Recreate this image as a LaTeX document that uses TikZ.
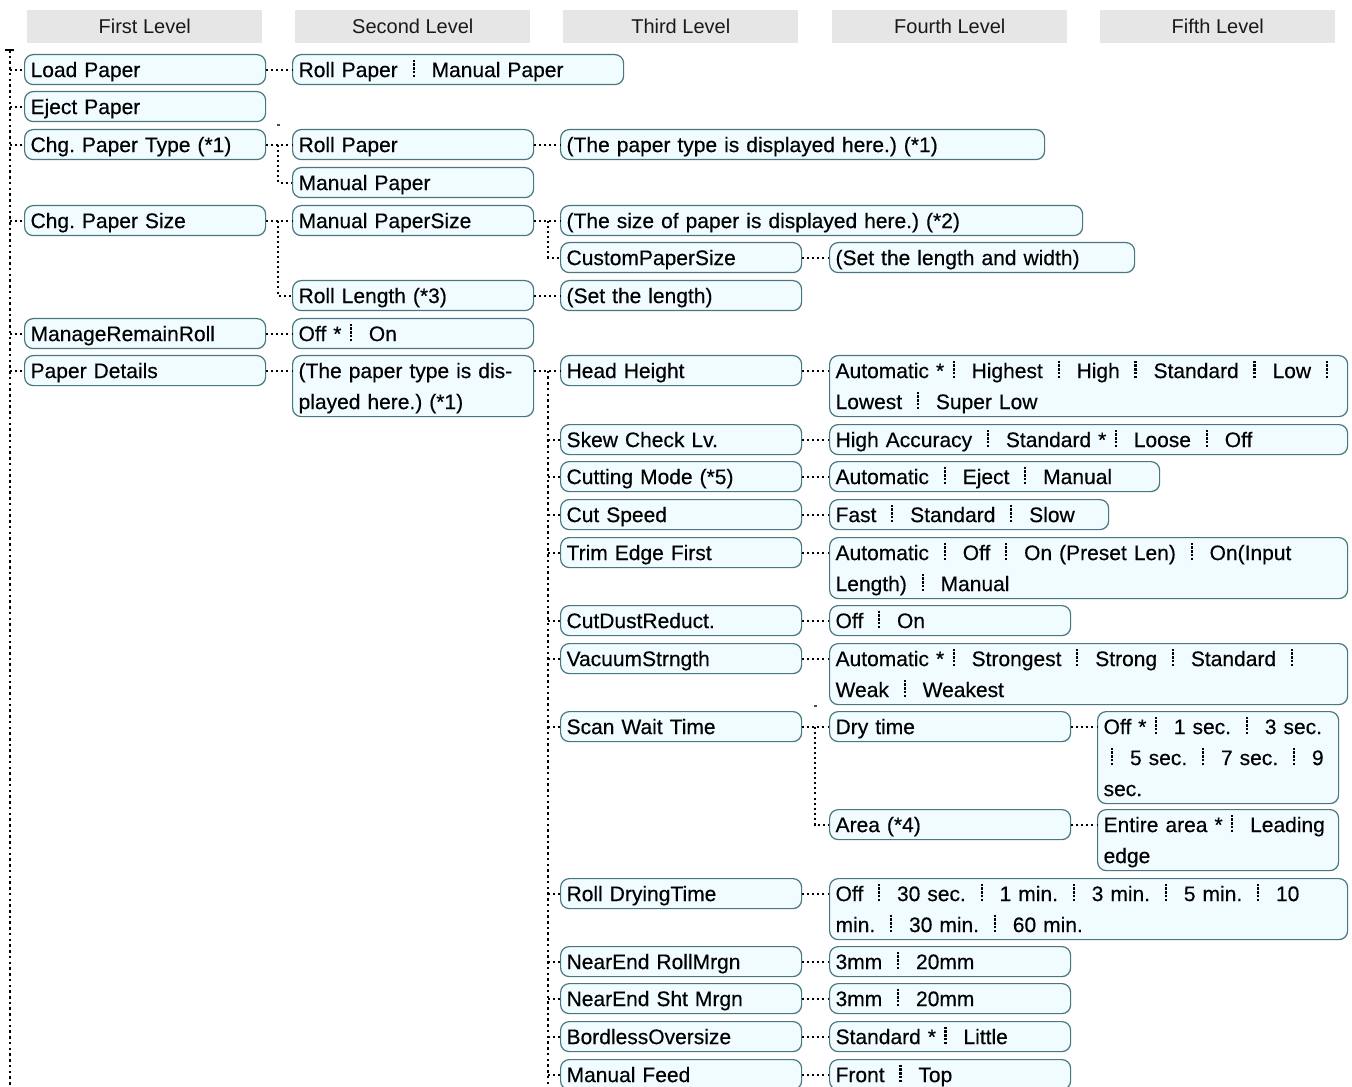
\documentclass[tikz,border=0pt]{standalone}
\usepackage{fontspec}
\setmainfont{Liberation Sans}
\newfontfamily\boxfont{Liberation Sans}[FakeBold=0.35]
\definecolor{boxfill}{HTML}{F0FCFF}
\definecolor{boxdraw}{HTML}{4A767E}
\definecolor{hdrfill}{HTML}{E6E6E6}
\newcommand\vbar{\raisebox{-2pt}{\vbox to 17pt{\cleaders\vbox to 2.9pt{\vss\hrule width 1.7pt height 1.7pt\vss}\vfill}}}
\newcommand\vsp{\hspace{0.7em}\vbar\hspace{0.8em}}
\newcommand\vsps{\hspace{0.4em}\vbar\hspace{0.8em}}
\newcommand\mystrut{\rule[-5.5pt]{0pt}{22.2pt}}
\newcommand\mybox[6]{\pgfmathsetmacro\tw{(#4-12)*0.75}\pgfmathsetmacro\mh{#5*0.75}\node[box,text width=\tw pt,minimum height=\mh pt] (#1) at (#2,#3) {#6};}
\tikzset{
  box/.style={draw=boxdraw, fill=boxfill, rounded corners=6.5pt, line width=0.9pt,
    anchor=north west, inner xsep=4.5pt, inner ysep=0pt, align=left,
    font=\boxfont\fontsize{15.75pt}{23.25pt}\selectfont\frenchspacing,
    execute at begin node=\mystrut, execute at end node=\mystrut},
  hdr/.style={fill=hdrfill, anchor=north west, minimum width=176.25pt, minimum height=24.75pt,
    inner sep=0pt, font=\fontsize{15pt}{18pt}\selectfont, text=black!90},
  conn/.style={line width=1.5pt, dash pattern=on 1.5pt off 2.3pt, black},
  trunk/.style={line width=1.9pt, dash pattern=on 1.9pt off 2.4pt, black}
}
\begin{document}
\begin{tikzpicture}[x=0.75pt,y=-0.75pt]
\useasboundingbox (0,0) rectangle (1352,1087);
% headers
\node[hdr] (h1) at (27,10) {First Level};
\node[hdr] (h2) at (295,10) {Second Level};
\node[hdr] (h3) at (563,10) {Third Level};
\node[hdr] (h4) at (832,10) {Fourth Level};
\node[hdr] (h5) at (1100,10) {Fifth Level};
% column 1
\mybox{lp}{24}{54}{241}{30}{Load Paper}
\mybox{ep}{24}{91}{241}{30}{Eject Paper}
\mybox{cpt}{24}{129}{241}{30}{Chg. Paper Type (*1)}
\mybox{cps}{24}{205}{241}{30}{Chg. Paper Size}
\mybox{mrr}{24}{318}{241}{30}{ManageRemainRoll}
\mybox{pd}{24}{355}{241}{30}{Paper Details}
% column 2
\mybox{lpv}{292}{54}{331}{30}{Roll Paper\vsp Manual Paper}
\mybox{rp}{292}{129}{241}{30}{Roll Paper}
\mybox{mp}{292}{167}{241}{30}{Manual Paper}
\mybox{mps}{292}{205}{241}{30}{Manual PaperSize}
\mybox{rl}{292}{280}{241}{30}{Roll Length (*3)}
\mybox{mrrv}{292}{318}{241}{30}{Off *\vsps On}
\mybox{pdv}{292}{355}{241}{61}{(The paper type is dis-\\played here.) (*1)}
% column 3
\mybox{rpv}{560}{129}{484}{30}{(The paper type is displayed here.) (*1)}
\mybox{mpsv}{560}{205}{522}{30}{(The size of paper is displayed here.) (*2)}
\mybox{cus}{560}{242}{241}{30}{CustomPaperSize}
\mybox{rlv}{560}{280}{241}{30}{(Set the length)}
\mybox{hh}{560}{355}{241}{30}{Head Height}
\mybox{sk}{560}{424}{241}{30}{Skew Check Lv.}
\mybox{cm}{560}{461}{241}{30}{Cutting Mode (*5)}
\mybox{cs}{560}{499}{241}{30}{Cut Speed}
\mybox{tef}{560}{537}{241}{30}{Trim Edge First}
\mybox{cdr}{560}{605}{241}{30}{CutDustReduct.}
\mybox{vs}{560}{643}{241}{30}{VacuumStrngth}
\mybox{swt}{560}{711}{241}{30}{Scan Wait Time}
\mybox{rdt}{560}{878}{241}{30}{Roll DryingTime}
\mybox{nerm}{560}{946}{241}{30}{NearEnd RollMrgn}
\mybox{nesm}{560}{983}{241}{30}{NearEnd Sht Mrgn}
\mybox{bo}{560}{1021}{241}{30}{BordlessOversize}
\mybox{mf}{560}{1059}{241}{30}{Manual Feed}
% column 4
\mybox{cusv}{829}{242}{305}{30}{(Set the length and width)}
\mybox{hhv}{829}{355}{518}{61}{Automatic *\vsps Highest\vsp High\vsp Standard\vsp Low\vsp\\Lowest\vsp Super Low}
\mybox{skv}{829}{424}{518}{30}{High Accuracy\vsp Standard *\vsps Loose\vsp Off}
\mybox{cmv}{829}{461}{330}{30}{Automatic\vsp Eject\vsp Manual}
\mybox{csv}{829}{499}{279}{30}{Fast\vsp Standard\vsp Slow}
\mybox{tefv}{829}{537}{518}{61}{Automatic\vsp Off\vsp On (Preset Len)\vsp On(Input\\Length)\vsp Manual}
\mybox{cdrv}{829}{605}{241}{30}{Off\vsp On}
\mybox{vsv}{829}{643}{518}{61}{Automatic *\vsps Strongest\vsp Strong\vsp Standard\vsp\\Weak\vsp Weakest}
\mybox{dt}{829}{711}{241}{30}{Dry time}
\mybox{ar}{829}{809}{241}{30}{Area (*4)}
\mybox{rdtv}{829}{878}{518}{61}{Off\vsp 30 sec.\vsp 1 min.\vsp 3 min.\vsp 5 min.\vsp 10\\min.\vsp 30 min.\vsp 60 min.}
\mybox{nermv}{829}{946}{241}{30}{3mm\vsp 20mm}
\mybox{nesmv}{829}{983}{241}{30}{3mm\vsp 20mm}
\mybox{bov}{829}{1021}{241}{30}{Standard *\vsps Little}
\mybox{mfv}{829}{1059}{241}{30}{Front\vsp Top}
% column 5
\mybox{dtv}{1097}{711}{241}{92}{Off *\vsps 1 sec.\vsp 3 sec.\\\hspace*{0.35em}\vbar\hspace{0.8em}5 sec.\vsp 7 sec.\vsp 9\\sec.}
\mybox{arv}{1097}{809}{241}{61}{Entire area *\vsps Leading\\edge}
% trunk of column 1
\coordinate (t1) at (10,50);
\draw[line width=1.9pt, black] (5,50) -- (14,50);
\draw[trunk] (t1) -- (10,1095);
\foreach \n in {lp,ep,cpt,cps,mrr,pd} \draw[conn] (\n.west -| t1) -- (\n.west);
% column 1 -> 2
\coordinate (j1) at (278,0);
\draw[conn] (lp.east) -- (lpv.west);
\draw[conn] (cpt.east) -- (rp.west);
\draw[conn] (cpt.east -| j1) |- (mp.west);
\draw[conn] (cps.east) -- (mps.west);
\draw[conn] (cps.east -| j1) |- (rl.west);
\draw[conn] (mrr.east) -- (mrrv.west);
\draw[conn] (pd.east) -- (pd.east -| pdv.west);
\draw[line width=0.8pt, black!70] (277,125) -- (280,125);
% column 2 -> 3
\coordinate (j2) at (548,0);
\draw[conn] (rp.east) -- (rpv.west);
\draw[conn] (mps.east) -- (mpsv.west);
\draw[conn] (mps.east -| j2) |- (cus.west);
\draw[conn] (rl.east) -- (rlv.west);
\draw[conn] (hh.west -| pdv.east) -- (hh.west);
\draw[trunk] (hh.west -| j2) -- (548,1095);
\foreach \n in {sk,cm,cs,tef,cdr,vs,swt,rdt,nerm,nesm,bo,mf} \draw[conn] (\n.west -| j2) -- (\n.west);
% column 3 -> 4
\foreach \a/\b in {cus/cusv,hh/hhv,sk/skv,cm/cmv,cs/csv,tef/tefv,cdr/cdrv,vs/vsv,swt/dt,rdt/rdtv,nerm/nermv,nesm/nesmv,bo/bov,mf/mfv}
  \draw[conn] (\a.east) -- (\a.east -| \b.west);
\coordinate (j3) at (815,0);
\draw[conn] (swt.east -| j3) |- (ar.west);
\draw[line width=0.8pt, black!70] (814,706) -- (817,706);
% column 4 -> 5
\draw[conn] (dt.east) -- (dt.east -| dtv.west);
\draw[conn] (ar.east) -- (ar.east -| arv.west);
\end{tikzpicture}
\end{document}
